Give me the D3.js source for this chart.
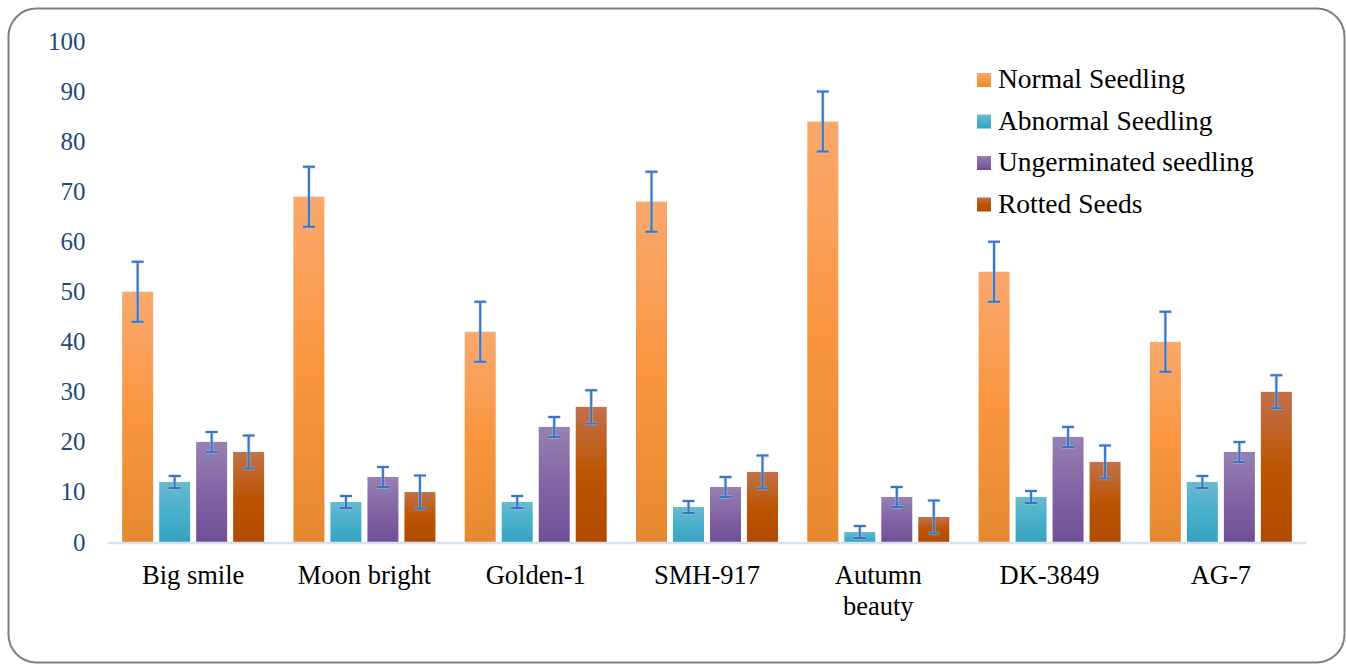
<!DOCTYPE html>
<html>
<head>
<meta charset="utf-8">
<script src="https://cdn.jsdelivr.net/npm/d3@7"></script>
<style>
  body { margin: 0; background: #fff; }
  #chart { width: 1346px; height: 666px; }
</style>
</head>
<body>
<div id="chart"></div>
<script>
// chart data
var categories = ["Big smile", "Moon bright", "Golden-1", "SMH-917", "Autumn beauty", "DK-3849", "AG-7"];
var series = ["Normal Seedling", "Abnormal Seedling", "Ungerminated seedling", "Rotted Seeds"];
var normal = [50, 69, 42, 68, 84, 54, 40];
var abnormal = [12, 8, 8, 7, 2, 9, 12];
var ungerminated = [20, 13, 23, 11, 9, 21, 18];
var rotted = [18, 10, 27, 14, 5, 16, 30];
var normalErr = [6, 6, 6, 6, 6, 6, 6];
var abnormalErr = [1.2, 1.2, 1.2, 1.2, 1.2, 1.2, 1.2];
var ungerminatedErr = [2, 2, 2, 2, 2, 2, 2];
var rottedErr = [3.3, 3.3, 3.3, 3.3, 3.3, 3.3, 3.3];
var yTicks = [0, 10, 20, 30, 40, 50, 60, 70, 80, 90, 100];

var FONT = "'Liberation Serif', 'Times New Roman', serif";

function create_bar_chart(div_id){
    var values = [normal, abnormal, ungerminated, rotted];
    var errors = [normalErr, abnormalErr, ungerminatedErr, rottedErr];
    // gradient stops (top, middle, bottom) for each series
    var grads = [
        ["#faa86e", "#f9963f", "#e5892f"],
        ["#68bacf", "#48b0cb", "#36a2bf"],
        ["#9681b3", "#8364a4", "#714f97"],
        ["#c2714c", "#bb5502", "#b04a00"]
    ];

    var W = 1346, H = 666;
    var margin = {top: 41.5, left: 107.5, right: 39.5, bottom: 124};
    var width = W - margin.left - margin.right,
        height = H - margin.top - margin.bottom;

    var svg = d3.select(div_id).append("svg")
        .attr("width", W)
        .attr("height", H);

    var defs = svg.append("defs");
    grads.forEach(function(g, i){
        var lg = defs.append("linearGradient")
            .attr("id", "grad" + i)
            .attr("x1", 0).attr("y1", 0).attr("x2", 0).attr("y2", 1);
        lg.append("stop").attr("offset", "0%").attr("stop-color", g[0]);
        lg.append("stop").attr("offset", "50%").attr("stop-color", g[1]);
        lg.append("stop").attr("offset", "100%").attr("stop-color", g[2]);
    });

    // rounded frame
    svg.append("rect")
        .attr("x", 8.5).attr("y", 8.5)
        .attr("width", 1336).attr("height", 654)
        .attr("rx", 28).attr("ry", 28)
        .attr("fill", "#fff")
        .attr("stroke", "#7f7f7f")
        .attr("stroke-width", 2);

    var g = svg.append("g")
        .attr("transform", "translate(" + margin.left + "," + margin.top + ")");

    var x0 = d3.scaleBand()
        .domain(categories)
        .range([0, width]);
    var pad = (x0.bandwidth() - 142) / 2;
    var x1 = d3.scaleBand()
        .domain(series)
        .range([pad, pad + 142])
        .paddingInner(6 / 37);
    var y = d3.scaleLinear()
        .domain([0, 100])
        .range([height, 0]);

    // y tick labels
    var yAxis = g.append("g")
        .call(d3.axisLeft(y).tickValues(yTicks).tickSize(0).tickPadding(22))
        .attr("font-family", FONT)
        .attr("font-size", 25);
    yAxis.select(".domain").remove();
    yAxis.selectAll("text")
        .attr("fill", "#1f497d");

    // bars
    series.forEach(function(s, si){
        var grp = g.append("g");
        grp.selectAll("rect")
            .data(categories)
            .enter().append("rect")
            .attr("x", function(c){ return x0(c) + x1(s); })
            .attr("y", function(c, i){ return y(values[si][i]); })
            .attr("width", x1.bandwidth())
            .attr("height", function(c, i){ return height - y(values[si][i]); })
            .attr("fill", "url(#grad" + si + ")");
    });

    // baseline
    g.append("line")
        .attr("x1", 0).attr("x2", width)
        .attr("y1", height + 1).attr("y2", height + 1)
        .attr("stroke", "#d6e2f0")
        .attr("stroke-width", 2.5);

    // error bars
    series.forEach(function(s, si){
        var eg = g.append("g");
        categories.forEach(function(c, i){
            var cx = x0(c) + x1(s) + x1.bandwidth() / 2;
            var hi = y(values[si][i] + errors[si][i]);
            var lo = y(values[si][i] - errors[si][i]);
            var path = "M" + cx + "," + hi + "V" + lo +
                "M" + (cx - 6) + "," + hi + "H" + (cx + 6) +
                "M" + (cx - 6) + "," + lo + "H" + (cx + 6);
            eg.append("path").attr("d", path)
                .attr("fill", "none")
                .attr("stroke", "#a9c4e8").attr("stroke-width", 3.5).attr("opacity", 0.6);
            eg.append("path").attr("d", path)
                .attr("fill", "none")
                .attr("stroke", "#3a74c4").attr("stroke-width", 2);
        });
    });

    // category labels
    var xl = g.append("g")
        .attr("transform", "translate(0," + height + ")");
    categories.forEach(function(c){
        var words = c === "Autumn beauty" ? ["Autumn", "beauty"] : [c];
        var t = xl.append("text")
            .attr("x", x0(c) + x0.bandwidth() / 2)
            .attr("y", 42)
            .attr("text-anchor", "middle")
            .attr("fill", "#000")
            .attr("font-family", FONT)
            .attr("font-size", 26.5);
        words.forEach(function(w, wi){
            t.append("tspan")
                .attr("x", x0(c) + x0.bandwidth() / 2)
                .attr("dy", wi === 0 ? 0 : 31)
                .text(w);
        });
    });

    // legend
    var legend = svg.append("g").attr("transform", "translate(977,73)");
    series.forEach(function(s, si){
        var row = legend.append("g").attr("transform", "translate(0," + si * 41.5 + ")");
        row.append("rect")
            .attr("width", 14).attr("height", 14)
            .attr("fill", "url(#grad" + si + ")");
        row.append("text")
            .attr("x", 21).attr("y", 15)
            .attr("fill", "#000")
            .attr("font-family", FONT)
            .attr("font-size", 27.5)
            .text(s);
    });
}

create_bar_chart("#chart");
</script>
</body>
</html>
